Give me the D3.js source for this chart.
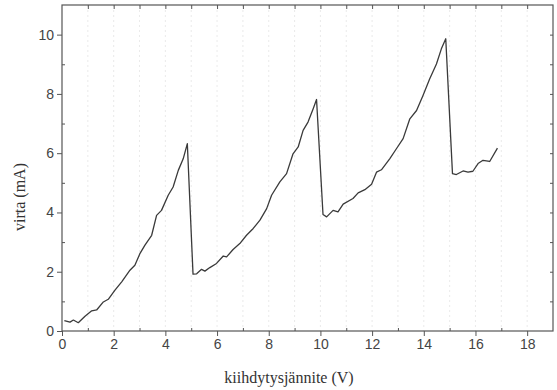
<!DOCTYPE html>
<html>
<head>
<meta charset="utf-8">
<script src="https://cdn.jsdelivr.net/npm/d3@7"></script>
<style>
  body { margin: 0; background: #fff; }
  #chart svg { display: block; }
</style>
</head>
<body>
<div id="chart"></div>
<script>
// accelerating voltage (V) and anode current (mA)
const voltage = [0.09, 0.31, 0.44, 0.63, 0.89, 1.15, 1.34, 1.6, 1.79, 2.05, 2.31, 2.63, 2.82, 3.02, 3.21, 3.47, 3.66, 3.85, 4.11, 4.3, 4.5, 4.69, 4.85,
  5.07, 5.21, 5.4, 5.53, 5.72, 5.98, 6.24, 6.37, 6.62, 6.88, 7.14, 7.4, 7.66, 7.92, 8.11, 8.43, 8.69, 8.94, 9.14, 9.33, 9.52, 9.72, 9.85,
  10.1, 10.24, 10.49, 10.68, 10.88, 11.26, 11.46, 11.72, 11.98, 12.17, 12.36, 12.68, 12.94, 13.2, 13.46, 13.72, 13.97, 14.23, 14.49, 14.68, 14.85,
  15.11, 15.26, 15.52, 15.71, 15.9, 16.1, 16.29, 16.55, 16.85];
const current = [0.35, 0.3, 0.37, 0.28, 0.5, 0.68, 0.71, 0.98, 1.07, 1.38, 1.66, 2.05, 2.22, 2.62, 2.9, 3.23, 3.9, 4.07, 4.58, 4.86, 5.42, 5.81, 6.32,
  1.92, 1.93, 2.08, 2.02, 2.14, 2.28, 2.53, 2.5, 2.75, 2.95, 3.23, 3.46, 3.74, 4.13, 4.58, 5.03, 5.31, 5.98, 6.21, 6.77, 7.05, 7.5, 7.81,
  3.93, 3.85, 4.07, 4.02, 4.28, 4.47, 4.66, 4.77, 4.95, 5.36, 5.44, 5.81, 6.15, 6.49, 7.16, 7.44, 7.95, 8.51, 9.01, 9.52, 9.86,
  5.31, 5.28, 5.4, 5.36, 5.39, 5.65, 5.76, 5.72, 6.17];

const xTicks = [0, 2, 4, 6, 8, 10, 12, 14, 16, 18];
const yTicks = [0, 2, 4, 6, 8, 10];
const xTitle = 'kiihdytysjännite (V)';
const yTitle = 'virta (mA)';

const W = 557, H = 390;
const margin = { top: 5, right: 4, bottom: 59, left: 62 },
  width = W - margin.left - margin.right,
  height = H - margin.top - margin.bottom;

const svg = d3.select('#chart')
  .append('svg')
  .attr('width', W)
  .attr('height', H);

const g = svg.append('g')
  .attr('transform', 'translate(' + margin.left + ',' + margin.top + ')');

const x = d3.scaleLinear().domain([0, 19]).range([0, width]);
const y = d3.scaleLinear().domain([0, 11]).range([height, 0]);

const axisColor = '#555';
const data = voltage.map((v, i) => ({ v: v, c: current[i] }));

// faint vertical grid at every volt
g.append('g')
  .selectAll('line')
  .data(d3.range(1, 19))
  .join('line')
  .attr('x1', d => x(d)).attr('x2', d => x(d))
  .attr('y1', 0).attr('y2', height)
  .attr('stroke', '#e4e4e4')
  .attr('stroke-width', 0.8)
  .attr('stroke-dasharray', '2,3');

// frame
g.append('rect')
  .attr('width', width).attr('height', height)
  .attr('fill', 'none')
  .attr('stroke', axisColor)
  .attr('stroke-width', 1.2);

// bottom axis
const bottom = g.append('g')
  .attr('transform', 'translate(0,' + height + ')')
  .call(d3.axisBottom(x).tickValues(xTicks).tickSizeInner(5).tickSizeOuter(0).tickPadding(3));
bottom.append('g')
  .call(d3.axisTop(x).tickValues(d3.range(1, 19, 2)).tickSize(3).tickFormat(''));

// left axis
const left = g.append('g')
  .call(d3.axisLeft(y).tickValues(yTicks).tickSizeInner(5).tickSizeOuter(0).tickPadding(3));
left.append('g')
  .call(d3.axisRight(y).tickValues(d3.range(1, 11, 2)).tickSize(3).tickFormat(''));

// top and right inward ticks
g.append('g')
  .call(d3.axisBottom(x).tickValues(d3.range(1, 19)).tickSize(4).tickFormat(''));
g.append('g')
  .attr('transform', 'translate(' + width + ',0)')
  .call(d3.axisLeft(y).tickValues(d3.range(1, 11)).tickSize(3).tickFormat(''));

g.selectAll('.domain').attr('stroke', 'none');
g.selectAll('.tick line').attr('stroke', axisColor).attr('stroke-width', 1);
g.selectAll('.tick text')
  .attr('fill', '#444')
  .style('font-family', '"Liberation Sans", Arial, sans-serif')
  .style('font-size', '14px');

// curve
const line = d3.line()
  .x(d => x(d.v))
  .y(d => y(d.c))
  .curve(d3.curveLinear);

g.append('path')
  .datum(data)
  .attr('fill', 'none')
  .attr('stroke', '#3a3a3a')
  .attr('stroke-width', 1.3)
  .attr('stroke-linejoin', 'round')
  .attr('d', line);

// titles
svg.append('text')
  .attr('x', 289)
  .attr('y', 383)
  .attr('text-anchor', 'middle')
  .attr('fill', '#333')
  .style('font-family', '"Liberation Serif", "Times New Roman", serif')
  .style('font-size', '16px')
  .text(xTitle);

svg.append('text')
  .attr('transform', 'translate(25,197) rotate(-90)')
  .attr('text-anchor', 'middle')
  .attr('fill', '#333')
  .style('font-family', '"Liberation Serif", "Times New Roman", serif')
  .style('font-size', '16px')
  .text(yTitle);
</script>
</body>
</html>
